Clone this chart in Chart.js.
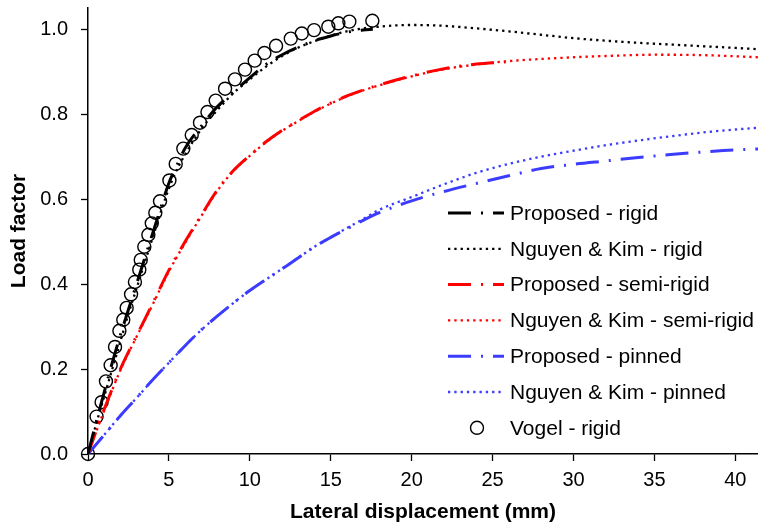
<!DOCTYPE html>
<html>
<head>
<meta charset="utf-8">
<script src="https://cdn.jsdelivr.net/npm/chart.js@4.4.0/dist/chart.umd.min.js"></script>
<style>
  html, body { margin: 0; padding: 0; background: #fff; }
  #wrap { width: 758px; height: 525px; }
</style>
</head>
<body>
<div id="wrap"><canvas id="myChart" width="758" height="525"></canvas></div>
<script>
// series (x = lateral displacement in mm, y = load factor)
const vogelX = [0, 0.53, 0.84, 1.11, 1.40, 1.67, 1.94, 2.18, 2.39, 2.66, 2.90, 3.17, 3.26, 3.48, 3.73, 3.94, 4.16, 4.45, 5.03, 5.42, 5.89, 6.41, 6.92, 7.38, 7.89, 8.47, 9.08, 9.70, 10.30, 10.90, 11.62, 12.53, 13.21, 13.97, 14.85, 15.47, 16.15, 17.57];
const vogelY = [0, 0.088, 0.122, 0.171, 0.209, 0.252, 0.290, 0.316, 0.344, 0.376, 0.405, 0.434, 0.457, 0.488, 0.516, 0.543, 0.568, 0.595, 0.644, 0.683, 0.719, 0.751, 0.780, 0.805, 0.832, 0.860, 0.882, 0.905, 0.926, 0.944, 0.961, 0.978, 0.990, 0.998, 1.006, 1.014, 1.018, 1.020];

const propRigidX = [0, 0.5, 1, 1.5, 2, 2.5, 3, 3.5, 4, 4.5, 5, 5.5, 6, 7, 8, 9, 10, 11, 12, 13, 14, 15, 16, 17, 17.6];
const propRigidY = [0, 0.075, 0.145, 0.215, 0.28, 0.34, 0.40, 0.46, 0.52, 0.58, 0.638, 0.68, 0.72, 0.772, 0.818, 0.852, 0.886, 0.917, 0.94, 0.958, 0.973, 0.984, 0.993, 0.998, 1.0];

const nkRigidX = [0, 0.5, 1, 1.5, 2, 2.5, 3, 3.5, 4, 4.5, 5, 5.5, 6, 7, 8, 9, 10, 11, 12, 13, 14, 15, 16, 17, 18, 19, 20, 22, 24, 26, 28, 30, 32, 34, 36, 38, 40, 41.4];
const nkRigidY = [0, 0.07, 0.135, 0.2, 0.265, 0.33, 0.39, 0.45, 0.51, 0.57, 0.625, 0.67, 0.705, 0.765, 0.81, 0.85, 0.882, 0.912, 0.937, 0.957, 0.972, 0.985, 0.995, 1.002, 1.006, 1.009, 1.010, 1.008, 1.002, 0.995, 0.987, 0.979, 0.973, 0.968, 0.964, 0.960, 0.956, 0.953];

const propSemiX = [0, 0.6, 1, 2, 3, 4, 5, 6, 7, 8, 9, 10, 11, 12, 13, 14, 15, 16, 17, 18, 20, 22, 24, 25.8];
const propSemiY = [0, 0.065, 0.105, 0.20, 0.278, 0.355, 0.433, 0.50, 0.562, 0.622, 0.668, 0.703, 0.735, 0.762, 0.785, 0.807, 0.826, 0.843, 0.857, 0.869, 0.89, 0.907, 0.918, 0.923];

const nkSemiX = [0, 0.6, 1, 2, 3, 4, 5, 6, 7, 8, 9, 10, 11, 12, 13, 14, 15, 16, 17, 18, 20, 22, 24, 26, 28, 30, 32, 35, 38, 41.4];
const nkSemiY = [0, 0.062, 0.102, 0.197, 0.276, 0.352, 0.43, 0.497, 0.56, 0.62, 0.667, 0.702, 0.734, 0.761, 0.784, 0.806, 0.825, 0.842, 0.856, 0.868, 0.889, 0.906, 0.917, 0.925, 0.930, 0.934, 0.937, 0.940, 0.939, 0.934];

const propPinX = [0, 1, 2, 3, 4, 5, 6, 7, 8, 9, 10, 11, 12, 13, 14, 15, 16, 17, 18, 20, 22, 24, 26, 28, 30, 32, 34, 36, 38, 40, 41.4];
const propPinY = [0, 0.045, 0.09, 0.132, 0.175, 0.215, 0.255, 0.292, 0.325, 0.356, 0.385, 0.411, 0.436, 0.462, 0.488, 0.51, 0.53, 0.55, 0.568, 0.596, 0.618, 0.637, 0.655, 0.672, 0.682, 0.690, 0.698, 0.705, 0.711, 0.716, 0.718];

const nkPinX = [0, 1, 2, 3, 4, 5, 6, 7, 8, 9, 10, 11, 12, 13, 14, 15, 16, 17, 18, 20, 22, 24, 26, 28, 30, 32, 34, 36, 38, 40, 41.4];
const nkPinY = [0, 0.045, 0.09, 0.132, 0.175, 0.215, 0.255, 0.292, 0.325, 0.356, 0.385, 0.411, 0.436, 0.462, 0.488, 0.51, 0.532, 0.553, 0.575, 0.605, 0.635, 0.662, 0.683, 0.700, 0.714, 0.727, 0.738, 0.748, 0.757, 0.764, 0.768];

const labels = ['Proposed - rigid', 'Nguyen & Kim - rigid', 'Proposed - semi-rigid', 'Nguyen & Kim - semi-rigid', 'Proposed - pinned', 'Nguyen & Kim - pinned', 'Vogel - rigid'];

const BLUE = '#3c3cff';
const FONT = "'Liberation Sans', Arial, sans-serif";
const dashDot = [23, 10, 2, 10];
const dotted = [2.3, 4];

function pts(xs, ys) {
    return xs.map((x, i) => ({x: x, y: ys[i]}));
}

function lineSet(label, xs, ys, color, dash, width) {
    return {
        label: label,
        data: pts(xs, ys),
        showLine: true,
        borderColor: color,
        backgroundColor: color,
        borderWidth: width,
        borderDash: dash,
        pointRadius: 0,
        cubicInterpolationMode: 'monotone'
    };
}

// legend drawn inside the plot area, to the right
const insideLegend = {
    id: 'insideLegend',
    afterDraw(chart) {
        const c = chart.ctx;
        const x0 = 448, x1 = 504, tx = 510;
        c.save();
        c.font = '21px ' + FONT;
        c.textBaseline = 'middle';
        c.textAlign = 'left';
        chart.data.datasets.forEach((ds, i) => {
            const y = 213 + i * 35.8;
            if (ds.showLine) {
                c.strokeStyle = ds.borderColor;
                c.lineWidth = ds.borderWidth;
                c.setLineDash(ds.borderDash);
                c.beginPath();
                c.moveTo(x0, y);
                c.lineTo(x1, y);
                c.stroke();
            } else {
                c.setLineDash([]);
                c.strokeStyle = ds.borderColor;
                c.lineWidth = ds.borderWidth;
                c.beginPath();
                c.arc(477, y, ds.pointRadius, 0, Math.PI * 2);
                c.stroke();
            }
            c.fillStyle = '#000';
            c.fillText(ds.label, tx, y + 1);
        });
        c.restore();
    }
};

const ctx = document.getElementById('myChart').getContext('2d');
const myChart = new Chart(ctx, {
    type: 'scatter',
    data: {
        datasets: [
            lineSet(labels[0], propRigidX, propRigidY, '#000', dashDot, 3),
            lineSet(labels[1], nkRigidX, nkRigidY, '#000', dotted, 2.3),
            lineSet(labels[2], propSemiX, propSemiY, '#ff0000', dashDot, 3),
            lineSet(labels[3], nkSemiX, nkSemiY, '#ff0000', dotted, 2.3),
            lineSet(labels[4], propPinX, propPinY, BLUE, dashDot, 3),
            lineSet(labels[5], nkPinX, nkPinY, BLUE, dotted, 2.3),
            {
                label: labels[6],
                data: pts(vogelX, vogelY),
                showLine: false,
                pointStyle: 'circle',
                pointRadius: 6.5,
                pointBorderWidth: 1.4,
                borderWidth: 1.4,
                borderColor: '#000',
                backgroundColor: 'rgba(0,0,0,0)',
                clip: false
            }
        ]
    },
    options: {
        responsive: false,
        animation: false,
        layout: { autoPadding: false, padding: { top: 8, right: 0, left: 0, bottom: 0 } },
        plugins: {
            legend: { display: false },
            tooltip: { enabled: false }
        },
        scales: {
            x: {
                type: 'linear',
                min: 0,
                max: 41.4,
                afterFit(scale) {
                    scale.height = 71;
                    scale.paddingLeft = 0;
                    scale.paddingRight = 0;
                },
                border: { display: true, color: '#000', width: 1.5 },
                grid: { drawOnChartArea: false, color: '#000', tickLength: 7, tickWidth: 1.3 },
                ticks: { stepSize: 5, includeBounds: false, padding: 7, color: '#000', font: { family: FONT, size: 20 } },
                title: { display: true, text: 'Lateral displacement (mm)', color: '#000', padding: { top: 0, bottom: 0 }, font: { family: FONT, size: 21, weight: 'bold' } }
            },
            y: {
                min: 0,
                max: 1.05,
                afterFit(scale) {
                    scale.width = 88;
                    scale.paddingTop = 0;
                    scale.paddingBottom = 0;
                },
                border: { display: true, color: '#000', width: 1.5 },
                grid: { drawOnChartArea: false, color: '#000', tickLength: 7, tickWidth: 1.3 },
                ticks: { stepSize: 0.2, includeBounds: false, padding: 13, color: '#000', font: { family: FONT, size: 20 },
                    callback: (v) => v.toFixed(1) },
                title: { display: true, text: 'Load factor', color: '#000', padding: { top: 7, bottom: 0 }, font: { family: FONT, size: 21, weight: 'bold' } }
            }
        }
    },
    plugins: [insideLegend]
});
</script>
</body>
</html>
